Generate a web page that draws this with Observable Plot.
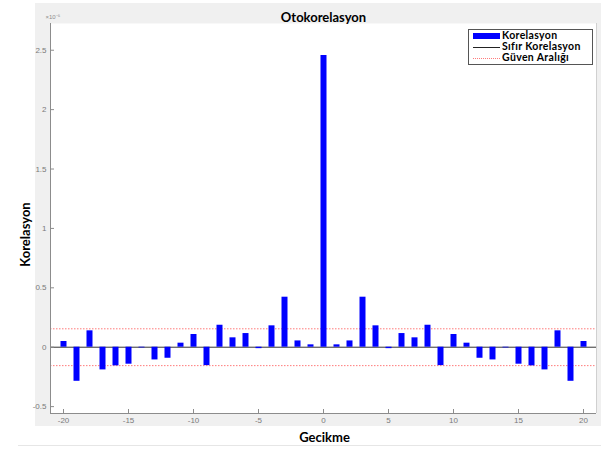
<!DOCTYPE html>
<html>
<head>
<meta charset="utf-8">
<script src="https://cdn.jsdelivr.net/npm/d3@7"></script>
<script src="https://cdn.jsdelivr.net/npm/@observablehq/plot@0.6"></script>
<style>
  body { margin: 0; background: #fff; }
  #wrap { position: relative; width: 601px; height: 450px; overflow: hidden; font-family: Lato, "Open Sans", sans-serif; }
  #bg { position: absolute; left: 35px; top: 3px; width: 566px; height: 423px; background: #f0f0f0; }
  #foot { position: absolute; left: 18px; top: 445px; width: 583px; height: 1px; background: #e6e6e6; }
  #chart { position: absolute; left: 0; top: 0; }
  #legend { position: absolute; left: 468px; top: 29px; width: 125px; height: 36px; background: #fff; border: 1px solid #555; box-sizing: border-box; padding-top: 0px; }
  .row { position: relative; height: 11px; line-height: 11px; font-weight: 700; font-size: 10.5px; letter-spacing: 0.35px; color: #000; white-space: nowrap; }
  .row span.t { position: absolute; left: 33px; top: 0; }
  .sw { position: absolute; left: 4px; width: 27px; }
</style>
</head>
<body>
<div id="wrap">
  <div id="bg"></div>
  <div id="foot"></div>
  <div id="chart"></div>
  <div id="legend"></div>
</div>
<script>
// ---- data (values in units of 1e-5) ----
const lags = [-20,-19,-18,-17,-16,-15,-14,-13,-12,-11,-10,-9,-8,-7,-6,-5,-4,-3,-2,-1,0,
              1,2,3,4,5,6,7,8,9,10,11,12,13,14,15,16,17,18,19,20];
const correlation = [0.048,-0.287,0.138,-0.191,-0.157,-0.143,-0.006,-0.107,-0.093,0.034,0.107,-0.155,0.185,0.079,0.115,-0.012,0.180,0.421,0.053,0.020,
                     2.455,
                     0.020,0.053,0.421,0.180,-0.012,0.115,0.079,0.185,-0.155,0.107,0.034,-0.093,-0.107,-0.006,-0.143,-0.157,-0.191,0.138,-0.287,0.048];
const confidenceBound = 0.155;
const yTicks = [-0.5, 0, 0.5, 1, 1.5, 2, 2.5];
const xTicks = [-20, -15, -10, -5, 0, 5, 10, 15, 20];
const xDomain = [-21, 21];
const yDomain = [-0.558, 2.725];
const titleText = "Otokorelasyon";
const xLabel = "Gecikme";
const yLabel = "Korelasyon";
const exponentLabel = "×10⁻⁵";
const legendItems = ["Korelasyon", "Sıfır Korelasyon", "Güven Aralığı"];

const data = lags.map((lag, i) => ({lag, value: correlation[i]}));
const boldFont = "Lato, 'Open Sans', sans-serif";
const tickFont = "'Liberation Sans', Arial, sans-serif";

const chart = Plot.plot({
  width: 601,
  height: 450,
  marginLeft: 50,
  marginRight: 5,
  marginTop: 23,
  marginBottom: 37,
  style: {background: "transparent", overflow: "visible"},
  x: {domain: xDomain, axis: null},
  y: {domain: yDomain, axis: null},
  marks: [
    Plot.frame({fill: "white", stroke: "none"}),
    Plot.ruleY([confidenceBound, -confidenceBound], {stroke: "#ff7a7a", strokeWidth: 1, strokeDasharray: "1.5,1.5"}),
    Plot.ruleY([0], {stroke: "#333", strokeWidth: 1}),
    Plot.ruleX(data, {x: "lag", y1: 0, y2: "value", stroke: "#0000ff", strokeWidth: 6}),
    Plot.ruleX([xDomain[0]], {stroke: "#8c8c8c"}),
    Plot.ruleX([xDomain[1]], {stroke: "#d0d0d0"}),
    Plot.ruleY([yDomain[0]], {stroke: "#8c8c8c"}),
    Plot.axisY(yTicks, {anchor: "left", tickSize: -4, tickPadding: 8, stroke: "#8c8c8c", fill: "#7a7a7a", fontSize: 8, fontFamily: tickFont, tickFormat: d => String(d), label: null}),
    Plot.axisX(xTicks, {anchor: "bottom", tickSize: -4, tickPadding: 8, stroke: "#8c8c8c", fill: "#7a7a7a", fontSize: 8, fontFamily: tickFont, tickFormat: d => String(d), label: null}),
    Plot.text([exponentLabel], {frameAnchor: "top-left", dx: -5, dy: -9, fontSize: 6, fill: "#8c8c8c", fontFamily: tickFont, textAnchor: "start"}),
    Plot.text([titleText], {frameAnchor: "top", dy: -11, fontSize: 13, fontWeight: "bold", fontFamily: boldFont, fill: "#000"}),
    Plot.text([xLabel], {frameAnchor: "bottom", dx: 1, dy: 28, fontSize: 13, fontWeight: "bold", fontFamily: boldFont, fill: "#000"}),
    Plot.text([yLabel], {frameAnchor: "left", textAnchor: "middle", dx: -25, dy: 16, rotate: -90, fontSize: 13, fontWeight: "bold", fontFamily: boldFont, fill: "#000"})
  ]
});
document.getElementById("chart").appendChild(chart);

// legend
const legend = document.getElementById("legend");
const swatches = [
  'top:3px;height:6px;background:#0000ff;',
  'top:6px;height:0;border-top:1px solid #222;',
  'top:6px;height:0;border-top:1px dotted #ff7a7a;'
];
legendItems.forEach((label, i) => {
  const row = document.createElement("div");
  row.className = "row";
  const sw = document.createElement("span");
  sw.className = "sw";
  sw.style.cssText += swatches[i];
  const t = document.createElement("span");
  t.className = "t";
  t.textContent = label;
  row.appendChild(sw);
  row.appendChild(t);
  legend.appendChild(row);
});
</script>
</body>
</html>
